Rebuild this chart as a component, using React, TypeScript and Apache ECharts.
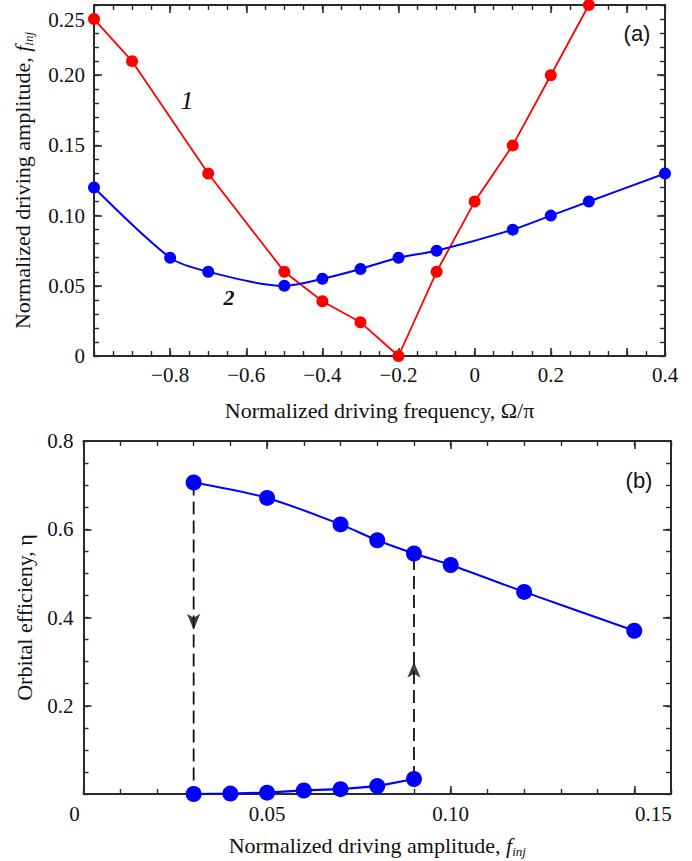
import React, { useEffect, useRef } from 'react';
import * as echarts from 'echarts';

// Panel (a): driving amplitude vs driving frequency
const freq1 = [-1.0, -0.9, -0.7, -0.5, -0.4, -0.3, -0.2, -0.1, 0.0, 0.1, 0.2, 0.3];
const amp1 = [0.24, 0.21, 0.13, 0.06, 0.039, 0.024, 0.0, 0.06, 0.11, 0.15, 0.2, 0.25];
const freq2 = [-1.0, -0.8, -0.7, -0.5, -0.4, -0.3, -0.2, -0.1, 0.1, 0.2, 0.3, 0.5];
const amp2 = [0.12, 0.07, 0.06, 0.05, 0.055, 0.062, 0.07, 0.075, 0.09, 0.1, 0.11, 0.13];

// Panel (b): orbital efficiency vs driving amplitude
const ampUpper = [0.03, 0.05, 0.07, 0.08, 0.09, 0.1, 0.12, 0.15];
const etaUpper = [0.706, 0.671, 0.611, 0.575, 0.545, 0.519, 0.458, 0.37];
const ampLower = [0.03, 0.04, 0.05, 0.06, 0.07, 0.08, 0.09];
const etaLower = [0.0, 0.001, 0.003, 0.008, 0.011, 0.018, 0.034];
const arrowDown = [0.03, 0.372];
const arrowUp = [0.09, 0.3];

const SERIF = 'Liberation Serif';
const SANS = 'Liberation Sans';
const FRAME = '#2a2a2a';
const RED = '#ff0000';
const BLUE = '#0000ff';

const r3 = (v: number) => Math.round(v * 1000) / 1000;

const labelBase = { fontFamily: SERIF, fontSize: 21, color: '#111' };

function axisPair(
  dim: 'x' | 'y',
  gridIndex: number,
  position: string,
  min: number,
  max: number,
  major: number,
  minor: number,
  main: boolean,
  extra: any = {}
) {
  const lineStyle = { color: FRAME, width: 2 };
  const majorAxis: any = {
    type: 'value',
    gridIndex,
    position,
    min,
    max,
    interval: major,
    axisLine: { show: true, onZero: false, lineStyle },
    axisTick: { show: true, inside: true, length: 8, lineStyle: { color: FRAME, width: 1.6 } },
    axisLabel: { show: false },
    splitLine: { show: false },
    ...(main ? extra : {}),
  };
  const minorAxis: any = {
    type: 'value',
    gridIndex,
    position,
    min,
    max,
    interval: minor,
    axisLine: { show: false, onZero: false },
    axisTick: { show: true, inside: true, length: 5, lineStyle: { color: FRAME, width: 1.4 } },
    axisLabel: { show: false },
    splitLine: { show: false },
  };
  return [majorAxis, minorAxis];
}

const nameRich = {
  n: { fontFamily: SERIF, fontSize: 22, color: '#111' },
  f: { fontFamily: SERIF, fontSize: 22, fontStyle: 'italic', color: '#111' },
  s: { fontFamily: SERIF, fontSize: 13, fontStyle: 'italic', color: '#111', padding: [12, 0, 0, 0] },
};

export default function App() {
  const ref = useRef<HTMLDivElement>(null);

  useEffect(() => {
    if (!ref.current) return;
    const chart = echarts.init(ref.current, undefined, { renderer: 'svg' });

    const topXFmt = (v: number) => {
      const r = Math.round(v * 100) / 100;
      if (r === -1 || r === 0.4) return '';
      if (r === 0.5) return '0.4';
      if (r === 0) return '0';
      return (r < 0 ? '\u2212' : '') + Math.abs(r).toFixed(1);
    };
    const topYFmt = (v: number) => {
      const r = r3(v);
      if (r === 0) return '0';
      if (r === 0.25) return '{s|0.25}';
      return r.toFixed(2);
    };
    const botXFmt = (v: number) => {
      const r = r3(v);
      if (r === 0) return '{z|0}';
      if (r === 0.15) return '{r|0.15}';
      if (r === 0.16) return '';
      return r.toFixed(2);
    };
    const botYFmt = (v: number) => {
      const r = r3(v);
      if (r === 0) return '';
      return r.toFixed(1);
    };

    const xAxis = [
      ...axisPair('x', 0, 'bottom', -1, 0.5, 0.2, 0.05, true, {
        axisLabel: { show: true, margin: 8, formatter: topXFmt, ...labelBase },
        name: 'Normalized driving frequency, \u03A9/\u03C0',
        nameLocation: 'middle',
        nameGap: 43,
        nameTextStyle: { fontFamily: SERIF, fontSize: 22, color: '#111' },
      }),
      ...axisPair('x', 0, 'top', -1, 0.5, 0.2, 0.05, false),
      ...axisPair('x', 1, 'bottom', 0, 0.16, 0.05, 0.01, true, {
        axisLabel: {
          show: true,
          margin: 9,
          formatter: botXFmt,
          ...labelBase,
          rich: {
            z: { ...labelBase, padding: [0, 18, 10, 0] },
            r: { ...labelBase, padding: [0, 0, 0, 38] },
          },
        },
        name: '{n|Normalized driving amplitude, }{f|f}{s|inj}',
        nameLocation: 'middle',
        nameGap: 39,
        nameTextStyle: { rich: nameRich },
      }),
      ...axisPair('x', 1, 'top', 0, 0.16, 0.05, 0.01, false),
    ];

    const yAxis = [
      ...axisPair('y', 0, 'left', 0, 0.25, 0.05, 0.01, true, {
        axisLabel: {
          show: true,
          margin: 9,
          formatter: topYFmt,
          ...labelBase,
          rich: { s: { ...labelBase, padding: [30, 0, 0, 0] } },
        },
        name: '{n|Normalized driving amplitude, }{f|f}{s|inj}',
        nameLocation: 'middle',
        nameGap: 59,
        nameTextStyle: { rich: nameRich },
      }),
      ...axisPair('y', 0, 'right', 0, 0.25, 0.05, 0.01, false),
      ...axisPair('y', 1, 'left', 0, 0.8, 0.2, 0.05, true, {
        axisLabel: { show: true, margin: 10, formatter: botYFmt, ...labelBase },
        name: 'Orbital efficieny, \u03B7',
        nameLocation: 'middle',
        nameGap: 48,
        nameTextStyle: { fontFamily: SERIF, fontSize: 22, color: '#111' },
      }),
      ...axisPair('y', 1, 'right', 0, 0.8, 0.2, 0.05, false),
    ];

    const zip = (xs: number[], ys: number[]) => xs.map((x, i) => [x, ys[i]]);

    const option: any = {
      animation: false,
      backgroundColor: '#ffffff',
      grid: [
        { left: 94, top: 5, width: 571, height: 351 },
        { left: 83.5, top: 441, width: 587.5, height: 353 },
      ],
      xAxis,
      yAxis,
      series: [
        {
          type: 'line',
          xAxisIndex: 0,
          yAxisIndex: 0,
          data: zip(freq1, amp1),
          clip: false,
          symbol: 'circle',
          symbolSize: 12,
          itemStyle: { color: RED },
          lineStyle: { color: RED, width: 1.8 },
          z: 3,
        },
        {
          type: 'line',
          xAxisIndex: 0,
          yAxisIndex: 0,
          data: zip(freq2, amp2),
          clip: false,
          smooth: 0.3,
          symbol: 'circle',
          symbolSize: 12,
          itemStyle: { color: BLUE },
          lineStyle: { color: BLUE, width: 2 },
          z: 3,
        },
        {
          type: 'line',
          xAxisIndex: 4,
          yAxisIndex: 4,
          data: [
            [ampUpper[0], etaUpper[0]],
            [ampLower[0], etaLower[0]],
          ],
          symbol: 'none',
          lineStyle: { color: '#111', width: 1.8, type: [13, 6] },
          z: 2,
        },
        {
          type: 'line',
          xAxisIndex: 4,
          yAxisIndex: 4,
          data: [
            [ampLower[ampLower.length - 1], etaLower[etaLower.length - 1]],
            [ampUpper[4], etaUpper[4]],
          ],
          symbol: 'none',
          lineStyle: { color: '#111', width: 1.8, type: [13, 6] },
          z: 2,
        },
        {
          type: 'scatter',
          xAxisIndex: 4,
          yAxisIndex: 4,
          data: [arrowDown],
          symbol: 'arrow',
          symbolRotate: 180,
          symbolSize: [10, 16],
          itemStyle: { color: '#111' },
          z: 2,
        },
        {
          type: 'scatter',
          xAxisIndex: 4,
          yAxisIndex: 4,
          data: [arrowUp],
          symbol: 'arrow',
          symbolSize: [10, 16],
          itemStyle: { color: '#111' },
          z: 2,
        },
        {
          type: 'line',
          xAxisIndex: 4,
          yAxisIndex: 4,
          data: zip(ampUpper, etaUpper),
          clip: false,
          smooth: 0.3,
          symbol: 'circle',
          symbolSize: 16,
          itemStyle: { color: BLUE },
          lineStyle: { color: BLUE, width: 2 },
          z: 3,
        },
        {
          type: 'line',
          xAxisIndex: 4,
          yAxisIndex: 4,
          data: zip(ampLower, etaLower),
          clip: false,
          symbol: 'circle',
          symbolSize: 16,
          itemStyle: { color: BLUE },
          lineStyle: { color: BLUE, width: 2.2 },
          z: 3,
        },
      ],
      graphic: [
        {
          type: 'text',
          x: 637,
          y: 33,
          style: { text: '(a)', fontFamily: SANS, fontSize: 22, fill: '#111', align: 'center', verticalAlign: 'middle' },
        },
        {
          type: 'text',
          x: 639,
          y: 480,
          style: { text: '(b)', fontFamily: SANS, fontSize: 22, fill: '#111', align: 'center', verticalAlign: 'middle' },
        },
        {
          type: 'text',
          x: 187,
          y: 100,
          style: { text: '1', fontFamily: SERIF, fontStyle: 'italic', fontSize: 26, fill: '#111', align: 'center', verticalAlign: 'middle' },
        },
        {
          type: 'text',
          x: 229,
          y: 297,
          style: { text: '2', fontFamily: SERIF, fontStyle: 'italic', fontWeight: 'bold', fontSize: 22, fill: '#111', align: 'center', verticalAlign: 'middle' },
        },
      ],
    };

    chart.setOption(option);
    return () => chart.dispose();
  }, []);

  return (
    <div
      ref={ref}
      style={{ position: 'absolute', left: 0, top: 0, width: 692, height: 861, background: '#fff' }}
    />
  );
}
